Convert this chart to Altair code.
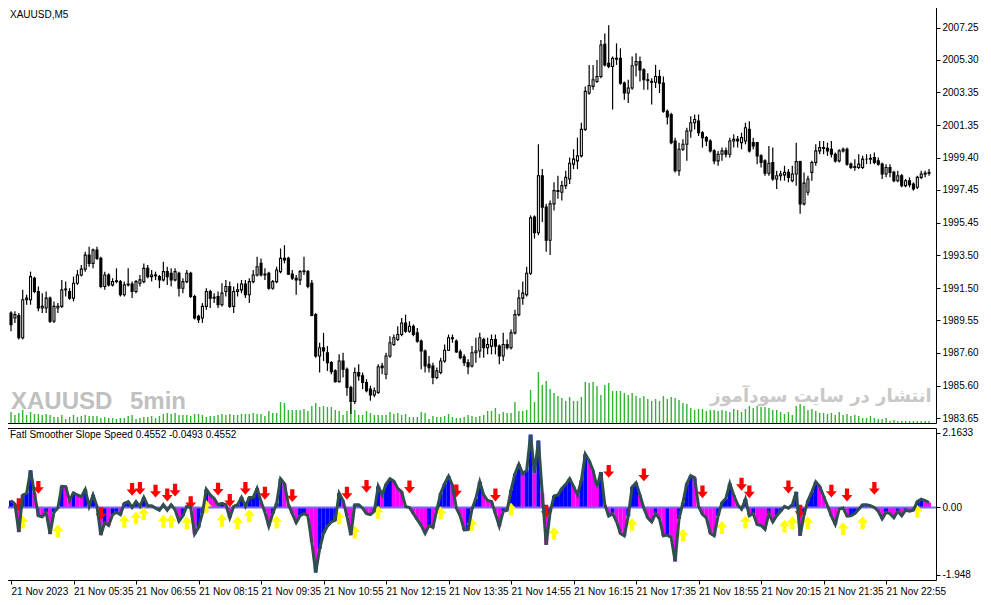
import json

import altair as alt
import pandas as pd

# XAUUSD M5 candles, 21 Nov 2023 (bar 0 = 04:15)
opens = [
    1990.0, 1989.7, 1989.85, 1988.5, 1990.8, 1990.8, 1992.1, 1991.3, 1990.3, 1990.3,
    1990.9, 1989.5, 1990.3, 1990.4, 1991.4, 1991.3, 1990.9, 1991.8, 1992.3, 1992.65,
    1993.5, 1993.0, 1993.8, 1993.3, 1991.6, 1992.3, 1991.7, 1991.9, 1991.9, 1991.1,
    1991.7, 1991.75, 1991.3, 1991.8, 1991.9, 1992.7, 1992.2, 1992.3, 1992.2, 1992.0,
    1992.5, 1992.4, 1992.0, 1992.4, 1991.5, 1991.9, 1992.4, 1991.0, 1989.8, 1989.7,
    1990.4, 1991.3, 1990.9, 1991.0, 1990.5, 1991.3, 1991.6, 1990.4, 1991.3, 1991.4,
    1991.75, 1991.1, 1991.9, 1992.3, 1993.0, 1992.3, 1992.4, 1991.5, 1991.9, 1992.5,
    1993.3, 1993.3, 1992.35, 1992.1, 1992.0, 1992.5, 1992.5, 1991.8, 1989.9, 1987.4,
    1987.9, 1987.6, 1987.0, 1986.5, 1985.85, 1987.1, 1986.6, 1985.5, 1984.65, 1986.4,
    1986.2, 1985.8, 1985.4, 1985.05, 1985.2, 1986.8, 1986.3, 1987.4, 1988.1, 1988.4,
    1988.7, 1989.4, 1988.9, 1989.2, 1988.8, 1988.3, 1987.7, 1986.9, 1986.8, 1986.1,
    1986.4, 1987.1, 1987.75, 1988.5, 1988.3, 1987.65, 1987.35, 1987.0, 1986.8, 1987.6,
    1987.7, 1988.4, 1987.9, 1988.0, 1988.4, 1988.0, 1987.4, 1988.1, 1987.9, 1988.8,
    1989.9, 1990.9, 1991.1, 1992.4, 1995.8, 1994.85, 1998.3, 1996.4, 1994.4, 1996.6,
    1997.4, 1997.3, 1997.7, 1998.1, 1999.0, 1999.2, 1999.5, 2001.1, 2003.3, 2003.7,
    2004.0, 2004.3, 2006.25, 2005.1, 2004.9, 2005.4, 2005.4, 2003.9, 2003.3, 2003.6,
    2005.0, 2005.2, 2004.7, 2004.1, 2004.0, 2003.95, 2004.3, 2003.9, 2002.2, 2002.0,
    2000.4, 1998.6, 1999.9, 2000.2, 2001.0, 2001.5, 2001.6, 2000.9, 2000.6, 2000.4,
    1999.8, 1999.2, 1999.6, 1999.8, 1999.6, 2000.4, 2000.5, 2000.3, 2000.4, 2001.1,
    2000.3, 2000.3, 1999.5, 1999.2, 1998.45, 1999.1, 1998.1, 1998.3, 1998.35, 1998.5,
    1998.0, 1998.4, 1999.15, 1996.6, 1997.3, 1998.5, 1999.1, 1999.8, 2000.0, 1999.95,
    1999.9, 1999.6, 1999.2, 1999.8, 1999.9, 1999.0, 1998.8, 1998.8, 1998.8, 1999.3,
    1999.3, 1999.4, 1999.2, 1999.0, 1998.4, 1998.8, 1998.5, 1998.0, 1998.3, 1997.7,
    1998.0, 1997.8, 1997.6, 1998.2, 1998.4, 1998.45,
]
highs = [
    1990.1, 1990.1, 1990.0, 1991.4, 1991.1, 1992.5, 1992.2, 1991.6, 1991.2, 1991.3,
    1991.0, 1990.7, 1990.6, 1992.0, 1991.9, 1991.5, 1992.2, 1992.6, 1992.9, 1993.7,
    1994.0, 1993.9, 1994.0, 1993.4, 1992.5, 1992.4, 1992.1, 1992.7, 1992.0, 1991.9,
    1992.7, 1991.9, 1992.0, 1992.3, 1993.0, 1992.9, 1992.6, 1992.5, 1992.3, 1993.1,
    1992.8, 1992.7, 1992.7, 1992.5, 1992.1, 1992.6, 1992.5, 1991.1, 1989.9, 1990.6,
    1991.5, 1991.4, 1991.2, 1991.3, 1991.8, 1992.0, 1991.9, 1991.6, 1991.8, 1992.0,
    1992.0, 1992.1, 1992.6, 1993.4, 1993.3, 1992.7, 1992.5, 1992.0, 1992.8, 1993.9,
    1994.1, 1993.4, 1992.6, 1992.3, 1992.6, 1993.4, 1992.6, 1992.0, 1990.0, 1988.2,
    1988.8, 1988.0, 1987.1, 1986.6, 1987.5, 1987.6, 1986.7, 1985.6, 1986.7, 1986.9,
    1986.4, 1986.0, 1985.6, 1985.5, 1986.9, 1987.0, 1987.6, 1988.6, 1988.7, 1989.2,
    1989.7, 1989.9, 1989.5, 1989.3, 1989.1, 1988.4, 1987.8, 1987.4, 1987.0, 1986.7,
    1987.3, 1988.1, 1988.7, 1988.7, 1988.4, 1987.8, 1987.5, 1987.2, 1988.0, 1988.5,
    1988.8, 1988.5, 1988.5, 1988.7, 1988.7, 1988.1, 1988.8, 1988.4, 1989.0, 1990.2,
    1991.4, 1991.9, 1992.8, 1995.9, 1995.9, 2000.2, 1998.7, 1996.6, 1996.8, 1997.9,
    1998.3, 1998.0, 1998.6, 1999.4, 1999.9, 2000.6, 2001.5, 2003.7, 2005.0, 2005.0,
    2005.3, 2006.5, 2006.9, 2007.4, 2005.5, 2006.3, 2006.0, 2004.0, 2004.1, 2005.5,
    2005.7, 2005.5, 2004.8, 2004.5, 2004.2, 2005.0, 2004.7, 2004.3, 2002.3, 2002.1,
    2000.6, 2000.3, 2000.5, 2001.2, 2001.9, 2002.0, 2002.0, 2001.0, 2000.7, 2000.5,
    1999.9, 1999.8, 2000.0, 2000.0, 2000.6, 2000.8, 2000.7, 2000.9, 2001.5, 2001.6,
    2000.6, 2000.3, 1999.6, 1999.3, 2000.1, 2000.0, 1998.6, 1998.6, 1998.9, 1998.7,
    1998.9, 2000.3, 1999.2, 1998.5, 1998.3, 1999.2, 2000.2, 2000.4, 2000.4, 2000.3,
    2000.4, 1999.7, 1999.9, 2000.0, 2000.0, 1999.1, 1999.3, 1999.6, 1999.5, 1999.6,
    1999.6, 1999.7, 1999.4, 1999.1, 1999.0, 1999.0, 1998.6, 1998.6, 1998.4, 1998.1,
    1998.2, 1997.9, 1998.3, 1998.6, 1998.6, 1998.7,
]
lows = [
    1988.9, 1989.4, 1988.4, 1988.4, 1990.5, 1990.5, 1991.2, 1990.1, 1990.0, 1990.0,
    1989.4, 1989.4, 1990.0, 1990.3, 1991.0, 1990.8, 1990.7, 1991.7, 1992.2, 1992.5,
    1992.8, 1992.7, 1993.2, 1991.5, 1991.4, 1991.6, 1991.6, 1991.8, 1991.0, 1991.0,
    1991.6, 1990.9, 1991.2, 1991.6, 1991.8, 1992.1, 1991.9, 1992.0, 1991.5, 1991.9,
    1991.7, 1991.6, 1991.9, 1991.0, 1991.2, 1991.8, 1990.9, 1989.6, 1989.4, 1989.4,
    1990.2, 1990.3, 1990.6, 1990.3, 1990.4, 1991.0, 1990.3, 1990.0, 1991.0, 1991.2,
    1990.9, 1990.6, 1991.8, 1992.2, 1992.2, 1992.0, 1991.4, 1991.4, 1991.8, 1992.4,
    1993.0, 1992.3, 1992.0, 1991.1, 1991.7, 1992.3, 1991.5, 1989.8, 1987.3, 1986.4,
    1987.1, 1986.5, 1986.3, 1985.8, 1985.8, 1986.1, 1985.0, 1983.9, 1984.5, 1985.9,
    1985.4, 1985.2, 1984.7, 1984.9, 1985.1, 1986.3, 1986.0, 1987.3, 1988.0, 1988.3,
    1988.6, 1988.8, 1988.8, 1988.6, 1988.2, 1986.6, 1986.4, 1986.4, 1985.7, 1986.0,
    1986.3, 1987.0, 1987.7, 1988.2, 1987.6, 1987.2, 1986.8, 1986.3, 1986.7, 1987.0,
    1987.3, 1987.3, 1987.5, 1987.5, 1987.5, 1986.9, 1987.1, 1987.8, 1987.8, 1988.7,
    1989.8, 1990.5, 1991.0, 1992.3, 1994.5, 1994.7, 1995.5, 1993.7, 1993.5, 1996.2,
    1996.9, 1996.8, 1997.5, 1997.8, 1998.7, 1998.7, 1999.4, 2001.0, 2003.2, 2003.5,
    2003.9, 2004.2, 2004.9, 2004.8, 2002.3, 2005.0, 2003.8, 2002.9, 2002.7, 2003.5,
    2004.3, 2004.0, 2003.5, 2003.5, 2002.6, 2003.6, 2003.3, 2002.1, 2001.4, 2000.2,
    1998.5, 1998.3, 1999.8, 1999.2, 2000.6, 2001.1, 2000.7, 2000.0, 2000.1, 1999.7,
    1999.0, 1998.9, 1999.2, 1999.4, 1999.4, 2000.0, 2000.0, 1999.9, 2000.2, 1999.7,
    1999.9, 1999.0, 1998.8, 1998.3, 1998.3, 1998.0, 1997.5, 1998.0, 1998.0, 1997.9,
    1997.9, 1997.7, 1996.0, 1996.5, 1997.1, 1998.0, 1998.9, 1999.6, 1999.6, 1999.5,
    1999.4, 1999.1, 1999.1, 1999.7, 1998.9, 1998.7, 1998.6, 1998.7, 1998.7, 1999.0,
    1999.0, 1999.0, 1998.9, 1998.1, 1998.2, 1998.2, 1997.9, 1997.9, 1997.6, 1997.6,
    1997.6, 1997.4, 1997.5, 1998.1, 1998.2, 1998.3,
]
closes = [
    1989.3, 1989.9, 1988.5, 1990.8, 1990.9, 1992.2, 1991.3, 1990.3, 1990.4, 1990.9,
    1989.5, 1990.4, 1990.4, 1991.4, 1991.45, 1990.9, 1991.8, 1992.3, 1992.65, 1993.5,
    1993.0, 1993.8, 1993.3, 1991.6, 1992.3, 1991.7, 1991.9, 1991.95, 1991.1, 1991.7,
    1991.75, 1991.3, 1991.9, 1992.0, 1992.7, 1992.2, 1992.3, 1992.25, 1992.0, 1992.5,
    1992.2, 1992.0, 1992.5, 1991.5, 1991.9, 1992.4, 1991.0, 1989.7, 1989.6, 1990.4,
    1991.3, 1990.9, 1990.95, 1990.5, 1991.2, 1991.6, 1990.4, 1991.3, 1991.4, 1991.75,
    1991.1, 1991.9, 1992.3, 1992.8, 1992.3, 1992.35, 1991.5, 1991.9, 1992.6, 1993.3,
    1993.2, 1992.35, 1992.1, 1992.0, 1992.5, 1992.55, 1991.6, 1989.85, 1987.4, 1987.9,
    1987.7, 1987.0, 1986.45, 1985.85, 1987.1, 1986.6, 1985.5, 1984.65, 1986.4, 1986.2,
    1985.8, 1985.3, 1985.05, 1985.3, 1986.75, 1986.7, 1987.4, 1988.2, 1988.5, 1988.7,
    1989.4, 1988.9, 1989.2, 1988.7, 1988.3, 1987.7, 1986.8, 1986.7, 1986.1, 1986.5,
    1987.1, 1987.75, 1988.5, 1988.45, 1987.65, 1987.3, 1987.0, 1986.75, 1987.6, 1987.7,
    1988.5, 1987.9, 1988.1, 1988.4, 1988.0, 1987.4, 1988.1, 1987.9, 1988.8, 1989.9,
    1990.9, 1991.2, 1992.4, 1995.75, 1994.85, 1998.3, 1996.4, 1994.4, 1996.6, 1997.4,
    1997.35, 1997.7, 1998.2, 1999.05, 1999.3, 1999.5, 2001.1, 2003.4, 2003.75, 2004.1,
    2004.3, 2006.2, 2005.0, 2004.9, 2005.4, 2005.35, 2003.9, 2003.3, 2003.6, 2004.95,
    2005.2, 2004.7, 2004.1, 2004.05, 2003.95, 2004.3, 2003.9, 2002.2, 2001.85, 2000.3,
    1998.6, 1999.9, 2000.2, 2001.0, 2001.5, 2001.7, 2000.9, 2000.6, 2000.4, 1999.8,
    1999.2, 1999.6, 1999.8, 1999.6, 2000.4, 2000.5, 2000.4, 2000.6, 2001.2, 1999.8,
    2000.1, 1999.5, 1999.1, 1998.45, 1999.05, 1998.1, 1998.3, 1998.4, 1998.5, 1998.2,
    1998.4, 1999.15, 1996.6, 1997.85, 1998.1, 1999.1, 1999.8, 2000.0, 1999.95, 1999.8,
    1999.6, 1999.2, 1999.8, 1999.9, 1999.0, 1998.8, 1998.85, 1999.0, 1999.3, 1999.3,
    1999.35, 1999.1, 1999.0, 1998.4, 1998.8, 1998.5, 1998.0, 1998.3, 1997.7, 1998.0,
    1997.75, 1997.5, 1998.2, 1998.4, 1998.45, 1998.5,
]
volumes = [
    220, 160, 200, 260, 160, 220, 180, 180, 160, 180,
    160, 120, 120, 160, 80, 120, 160, 120, 140, 160,
    140, 140, 140, 100, 120, 100, 100, 80, 100, 100,
    140, 160, 80, 100, 120, 120, 140, 100, 140, 180,
    200, 180, 200, 160, 160, 160, 140, 180, 180, 160,
    120, 140, 140, 160, 180, 160, 180, 160, 160, 180,
    180, 180, 200, 180, 180, 140, 240, 200, 200, 420,
    400, 260, 260, 260, 260, 280, 240, 340, 400, 320,
    340, 320, 320, 260, 240, 160, 240, 400, 260, 160,
    160, 240, 200, 160, 160, 160, 160, 220, 180, 200,
    160, 180, 120, 120, 120, 220, 200, 80, 140, 120,
    120, 140, 180, 120, 100, 100, 120, 160, 140, 120,
    140, 160, 240, 240, 300, 180, 220, 200, 200, 420,
    240, 240, 260, 660, 420, 1020, 760, 840, 680, 600,
    540, 500, 440, 520, 440, 440, 520, 820, 800, 820,
    740, 560, 760, 800, 640, 640, 640, 600, 560, 600,
    540, 500, 540, 480, 440, 480, 440, 540, 480, 520,
    500, 460, 400, 380, 300, 260, 280, 280, 240, 260,
    260, 240, 260, 240, 220, 280, 260, 220, 280, 340,
    300, 340, 320, 320, 300, 260, 260, 220, 180, 220,
    160, 340, 380, 340, 260, 280, 240, 200, 200, 180,
    200, 160, 220, 160, 180, 140, 160, 140, 100, 100,
    140, 100, 80, 80, 100, 40, 60, 40, 40, 40,
    40, 40, 40, 40, 40, 40,
]

# Fatl Smoother Slope Speed
speed = [
    0.20, 0.10, -0.71, 0.36, 0.41, 1.07, 0.42, -0.24, -0.27, -0.14,
    -0.77, -0.14, -0.02, 0.61, 0.60, 0.20, 0.42, 0.36, 0.31, 0.52,
    0.03, 0.36, 0.03, -0.80, -0.44, -0.52, -0.21, -0.14, -0.21, 0.12,
    0.17, 0.00, 0.17, 0.03, 0.29, 0.05, 0.05, -0.02, -0.08, 0.08,
    -0.08, 0.08, -0.07, -0.40, -0.24, 0.03, 0.00, -0.77, -0.58, -0.16,
    0.52, 0.36, 0.26, 0.08, 0.12, 0.08, -0.30, 0.03, 0.08, 0.29,
    0.03, 0.29, 0.29, 0.55, 0.17, -0.14, -0.54, -0.18, 0.12, 0.83,
    0.69, 0.08, -0.18, -0.44, -0.24, -0.18, -0.24, -1.01, -1.88, -1.20,
    -0.75, -0.54, -0.42, -0.37, 0.41, 0.20, -0.25, -0.80, 0.08, 0.08,
    -0.02, -0.18, -0.21, -0.11, 0.61, 0.36, 0.67, 0.83, 0.76, 0.55,
    0.45, 0.03, 0.00, -0.18, -0.35, -0.52, -0.75, -0.52, -0.58, -0.07,
    0.41, 0.69, 0.90, 0.64, -0.02, -0.25, -0.65, -0.64, -0.05, 0.26,
    0.74, 0.36, 0.20, 0.17, -0.18, -0.54, -0.11, -0.08, 0.50, 0.97,
    1.25, 0.97, 1.07, 2.10, 0.99, 1.93, 0.41, -1.08, -0.14, 0.33,
    0.36, 0.55, 0.67, 0.83, 0.61, 0.36, 0.78, 1.54, 1.35, 1.07,
    0.59, 1.02, 0.08, -0.25, -0.18, -0.40, -0.75, -0.82, -0.25, 0.59,
    0.71, 0.36, -0.02, -0.30, -0.42, -0.18, -0.33, -0.82, -0.80, -0.87,
    -1.56, -0.33, 0.14, 0.69, 0.92, 0.86, 0.03, -0.20, -0.30, -0.75,
    -0.82, -0.24, 0.14, 0.26, 0.69, 0.36, 0.08, -0.05, 0.24, -0.24,
    -0.18, -0.49, -0.52, -0.63, -0.18, -0.42, -0.24, -0.11, 0.03, -0.02,
    0.08, 0.45, -0.82, -0.21, 0.20, 0.45, 0.74, 0.61, 0.33, 0.05,
    -0.25, -0.49, -0.05, -0.02, -0.25, -0.24, -0.18, -0.05, 0.08, 0.08,
    0.05, 0.00, -0.11, -0.33, -0.14, -0.18, -0.30, -0.11, -0.24, -0.08,
    -0.11, -0.08, 0.17, 0.24, 0.20, 0.14,
]

sell_bars = [2, 7, 23, 31, 33, 37, 40, 42, 46, 53, 56, 60, 65, 72, 86, 91, 102, 114,
             124, 137, 153, 162, 177, 187, 189, 199, 202, 210, 214, 221]
sell_vals = [0.08, 0.58, -0.18, 0.52, 0.55, 0.47, 0.36, 0.50, 0.14, 0.53, 0.20, 0.55,
             0.41, 0.34, 0.41, 0.61, 0.59, 0.48, 0.36, -0.11, 1.04, 0.94, 0.45, 0.67,
             0.45, 0.59, -0.11, 0.47, 0.36, 0.55]
buy_bars = [3, 12, 29, 32, 34, 39, 41, 45, 50, 54, 58, 61, 68, 84, 88, 94, 110, 118,
            128, 139, 159, 172, 182, 188, 198, 200, 204, 213, 218, 232]
buy_vals = [-0.42, -0.68, -0.40, -0.30, -0.18, -0.40, -0.40, -0.44, 0.03, -0.37, -0.44,
            -0.24, -0.42, -0.30, -0.71, -0.14, -0.16, -0.49, -0.05, -0.75, -0.49, -0.80,
            -0.58, -0.42, -0.54, -0.44, -0.44, -0.61, -0.44, -0.11]

tick_bars = [0, 16, 32, 48, 64, 80, 96, 112, 128, 144, 160, 176, 192, 208, 224]
tick_labels = ["21 Nov 2023", "21 Nov 05:35", "21 Nov 06:55", "21 Nov 08:15",
               "21 Nov 09:35", "21 Nov 10:55", "21 Nov 12:15", "21 Nov 13:35",
               "21 Nov 14:55", "21 Nov 16:15", "21 Nov 17:35", "21 Nov 18:55",
               "21 Nov 20:15", "21 Nov 21:35", "21 Nov 22:55"]
price_ticks = [1983.65, 1985.60, 1987.60, 1989.55, 1991.50, 1993.50, 1995.45,
               1997.45, 1999.40, 2001.35, 2003.35, 2005.30, 2007.25]
speed_ticks = [-1.948, 0.0, 2.1633]

W, H_MAIN, H_IND = 930, 416, 152
FONT = "Liberation Sans"

df = pd.DataFrame({
    "bar": list(range(len(closes))),
    "open": opens, "high": highs, "low": lows, "close": closes,
    "volume": volumes, "speed": speed,
})
df["bull"] = df["close"] >= df["open"]
df["rising"] = df["speed"].diff().fillna(0) >= 0

x_scale = alt.Scale(domain=[0, 235.5], nice=False, zero=False)
X = alt.X("bar:Q", scale=x_scale, axis=None)
price_scale = alt.Scale(domain=[1983.35, 2008.5], nice=False, zero=False)
price_axis = alt.Axis(orient="right", values=price_ticks, format=".2f", title=None,
                      labelFlush=False)

base = alt.Chart(df)

volume_bars = base.mark_bar(size=1.4, color="#2fb52f", clip=True).encode(
    x=X,
    y=alt.Y("volume:Q", scale=alt.Scale(domain=[0, 8320], nice=False), axis=None),
)

wicks = base.mark_rule(color="black", strokeWidth=1.2, clip=True).encode(
    x=X,
    y=alt.Y("low:Q", scale=price_scale, axis=price_axis),
    y2="high:Q",
)
bodies = base.mark_bar(size=2, stroke="black", strokeWidth=1.1, clip=True).encode(
    x=X,
    y=alt.Y("open:Q", scale=price_scale, axis=price_axis),
    y2="close:Q",
    color=alt.condition(alt.datum.bull, alt.value("white"), alt.value("black")),
)


def label(text, x, y, **style):
    return alt.Chart(pd.DataFrame({"t": [text]})).mark_text(**style).encode(
        x=alt.value(x), y=alt.value(y), text="t:N")


wm_font = "'Liberation Sans', sans-serif"
wm_xau = label("XAUUSD", 5, H_MAIN - 21, align="left", baseline="middle", font=wm_font,
               fontSize=24, fontWeight="bold", color="#c0c0c0")
wm_tf = label("5min", 124, H_MAIN - 21, align="left", baseline="middle", font=wm_font,
              fontSize=24, fontWeight="bold", color="#c0c0c0")
wm_fa = label("انتشار در سایت سودآموز", 815, H_MAIN - 26, align="center",
              baseline="middle", font="DejaVu Sans", fontSize=18, fontWeight="bold",
              color="#c8c8c8")
main_title = label("XAUUSD,M5", 4, 8, align="left", baseline="middle", font=FONT,
                   fontSize=10, color="black")

main = alt.layer(
    volume_bars, wm_xau, wm_tf, wm_fa, alt.layer(wicks, bodies), main_title
).resolve_scale(y="independent").properties(width=W, height=H_MAIN)

# indicator panel
ind_scale = alt.Scale(domain=[-2.096, 2.295], nice=False, zero=False)
label_expr = f"{json.dumps(tick_labels)}[indexof({json.dumps(tick_bars)}, datum.value)]"
X_ind = alt.X("bar:Q", scale=x_scale,
              axis=alt.Axis(values=tick_bars, labelExpr=label_expr, labelAlign="left",
                            labelFlush=False, title=None))
Y_ind = alt.Y("speed:Q", scale=ind_scale,
              axis=alt.Axis(orient="right", values=speed_ticks, labelFlush=False,
                            labelExpr="datum.value == 0 ? '0.00' : '' + datum.value",
                            title=None))

hist = base.mark_bar(size=4, clip=True).encode(
    x=X_ind, y=Y_ind,
    color=alt.condition(alt.datum.rising, alt.value("#0000ff"), alt.value("#ff00ff")),
)
zero_line = alt.Chart(pd.DataFrame({"speed": [0.0]})).mark_rule(
    color="#7b68ee", strokeWidth=2).encode(y=Y_ind)

DOWN = "M-0.33,-1L0.33,-1L0.33,0L0.85,0L0,1L-0.85,0L-0.33,0Z"
UP = "M-0.33,1L0.33,1L0.33,0L0.85,0L0,-1L-0.85,0L-0.33,0Z"
sell = alt.Chart(pd.DataFrame({"bar": sell_bars, "speed": sell_vals})).mark_point(
    shape=DOWN, filled=True, size=165, color="#ff0000", opacity=1, clip=True
).encode(x=X_ind, y=Y_ind)
buy = alt.Chart(pd.DataFrame({"bar": buy_bars, "speed": buy_vals})).mark_point(
    shape=UP, filled=True, size=165, color="#ffff00", opacity=1, clip=True
).encode(x=X_ind, y=Y_ind)

speed_line = base.mark_line(color="#2f4f4f", strokeWidth=3, clip=True).encode(
    x=X_ind, y=Y_ind)

ind_title = label("Fatl Smoother Slope Speed 0.4552 -0.0493 0.4552", 4, 7,
                  align="left", baseline="middle", font=FONT, fontSize=10,
                  color="black")

indicator = alt.layer(hist, zero_line, sell, buy, speed_line, ind_title).properties(
    width=W, height=H_IND)

chart = (
    alt.vconcat(main, indicator, spacing=3)
    .properties(padding={"left": -4, "top": -2, "right": 0, "bottom": 0},
                background="white")
    .configure_view(stroke="black", strokeWidth=1)
    .configure_axis(labelFont=FONT, labelFontSize=10, labelColor="black",
                    tickColor="black", tickSize=4, labelPadding=2, grid=False,
                    domain=False)
)

chart.save("out.html", embed_options={"renderer": "svg", "actions": False})
